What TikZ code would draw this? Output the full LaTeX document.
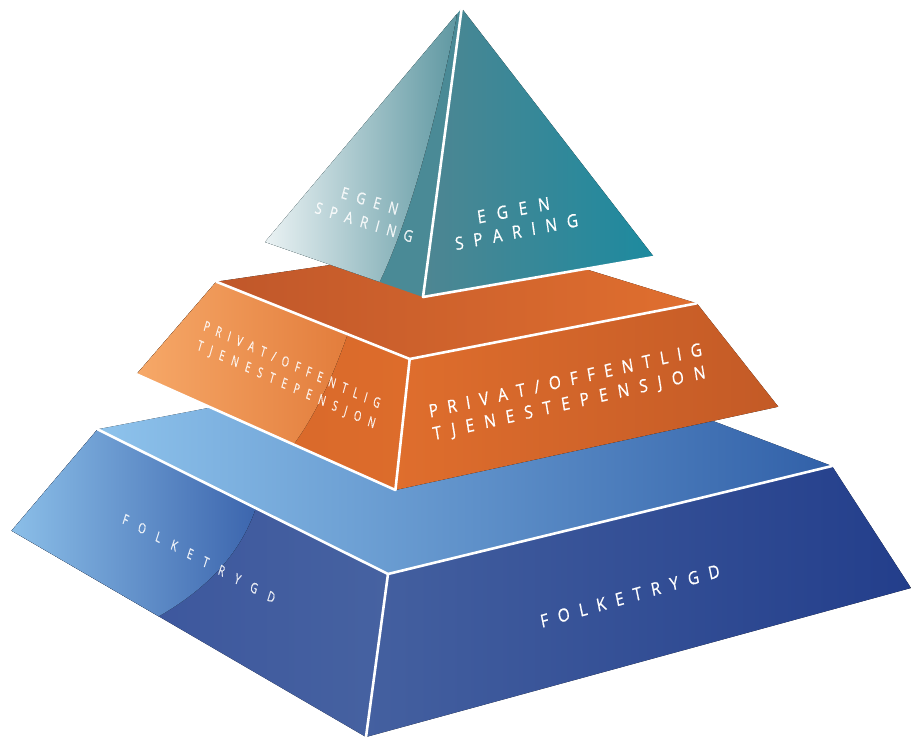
\documentclass[tikz,border=0pt]{standalone}
\usepackage{fontspec}
\newfontfamily\lblfont[FakeBold=0.6]{Open Sans}
\makeatletter
\newcommand\lsp[2]{\def\lsp@k{#1}\lsp@a#2\relax}
\def\lsp@a#1{\ifx\relax#1\else#1\expandafter\lsp@b\fi}
\def\lsp@b#1{\ifx\relax#1\else\kern\lsp@k#1\expandafter\lsp@b\fi}
\makeatother
\definecolor{tealBase}{HTML}{4A8A96}
\definecolor{tealLight}{HTML}{F2F7F8}
\definecolor{tealGl}{HTML}{5E97A1}
\definecolor{tealR1}{HTML}{4E8692}
\definecolor{tealR2}{HTML}{1D8A9F}
\definecolor{oTop1}{HTML}{C0572A}
\definecolor{oTop2}{HTML}{E06F2F}
\definecolor{oL1}{HTML}{F8AC6C}
\definecolor{oL2}{HTML}{E27C3B}
\definecolor{oL3}{HTML}{D5672B}
\definecolor{oL4}{HTML}{DD6C2B}
\definecolor{oR1}{HTML}{DF6E2D}
\definecolor{oR2}{HTML}{C35A26}
\definecolor{bTop1}{HTML}{8EC3EC}
\definecolor{bTop2}{HTML}{3160A8}
\definecolor{bL1}{HTML}{8FC3EB}
\definecolor{bL2}{HTML}{3A63AC}
\definecolor{bL3}{HTML}{38519B}
\definecolor{bL4}{HTML}{4662A1}
\definecolor{bR1}{HTML}{4460A0}
\definecolor{bR2}{HTML}{233E8B}
\begin{document}
\begin{tikzpicture}[x=1pt,y=-1pt,
  edge/.style={white, line width=2.6pt, line join=round, line cap=round},
  lbl/.style={text=white, font=\lblfont, align=center, inner sep=0pt},
  big/.style={lbl, xscale=0.85, font=\lblfont\fontsize{18}{22}\selectfont},
  small/.style={lbl, text opacity=0.85, font=\lblfont\fontsize{14}{20.5}\selectfont}]
\useasboundingbox (0,0) rectangle (911,737);
% vertices
\coordinate (B1) at (97.6,429.3);
\coordinate (B2) at (520,348);
\coordinate (B3) at (832,466);
\coordinate (B4) at (388,574);
\coordinate (B5) at (366,737);
\coordinate (B6) at (11.6,530.7);
\coordinate (B7) at (911,588);
\coordinate (O1) at (216.3,281.7);
\coordinate (O2) at (494,241);
\coordinate (O3) at (696.8,303.3);
\coordinate (O4) at (409.7,359);
\coordinate (O5) at (395.4,490);
\coordinate (O6) at (136.5,374.3);
\coordinate (O7) at (778.3,406.7);
\coordinate (T0) at (461.7,8.3);
\coordinate (T1) at (265,242);
\coordinate (T2) at (423,297);
\coordinate (T3) at (654,257);
% ---------- blue layer ----------
\fill[left color=bTop1, right color=bTop2] (B1) -- (B2) -- (B3) -- (B4) -- cycle;
\fill[left color=bR1, right color=bR2] (B4) -- (B3) -- (B7) -- (B5) -- cycle;
\fill[left color=bL3, right color=bL4] (B1) -- (B4) -- (B5) -- (B6) -- cycle;
\begin{scope}
  \clip (B1) -- (B4) -- (B5) -- (B6) -- cycle;
  \fill[left color=bL1, right color=bL2] (0,410) -- (262,410) -- (262,500) -- (255.7,508.3)
    .. controls (240,555) and (205,590) .. (158,616.7) -- (150,640) -- (0,640) -- cycle;
\end{scope}
\draw[edge] (B1) -- (B4) -- (B3);
\draw[edge] (B4) -- (B5);
% ---------- orange layer ----------
\fill[left color=oTop1, right color=oTop2] (O1) -- (O2) -- (O3) -- (O4) -- cycle;
\fill[left color=oR1, right color=oR2] (O4) -- (O3) -- (O7) -- (O5) -- cycle;
\fill[left color=oL3, right color=oL4] (O1) -- (O4) -- (O5) -- (O6) -- cycle;
\begin{scope}
  \clip (O1) -- (O4) -- (O5) -- (O6) -- cycle;
  \fill[left color=oL1, right color=oL2] (120,270) -- (352,270) -- (352,326) -- (347.7,334)
    .. controls (332,378) and (316,414) .. (293.5,444.5) -- (290,470) -- (120,470) -- cycle;
\end{scope}
\draw[edge] (O1) -- (O4) -- (O3);
\draw[edge] (O4) -- (O5) -- (O6);
% ---------- teal pyramid ----------
\fill[left color=tealR1, right color=tealR2] (T0) -- (T3) -- (T2) -- cycle;
\fill[tealBase] (T0) -- (T2) -- (T1) -- cycle;
\begin{scope}
  \clip (T0) -- (T2) -- (T1) -- cycle;
  \fill[left color=tealLight, right color=tealGl] (255,0) -- (458,0) -- (456,20)
    .. controls (432,140) and (405,230) .. (378,285) -- (376,310) -- (255,310) -- cycle;
\end{scope}
\draw[edge] (T0) -- (T2) -- (T3);
% ---------- labels ----------
\node[big, rotate=9.5] (egenR) at (515,221) {\lsp{0.73em}{EGEN}\\\lsp{0.66em}{SPARING}};
\node[small, cm={0.765,-0.234,0.259,0.966,(0,0)}, font=\lblfont\fontsize{16}{22}\selectfont] (egenL) at (367,211.5) {\lsp{0.67em}{EGEN}\\\lsp{0.63em}{SPARING}};
\node[big, rotate=11, font=\lblfont\fontsize{18}{23}\selectfont] (privR) at (567.5,393) {\lsp{0.62em}{PRIVAT/OFFENTLIG}\\\lsp{0.68em}{TJENESTEPENSJON}};
\node[small, cm={0.639,-0.285,0.276,0.961,(0,0)}] (privL) at (289,375.5) {\lsp{0.72em}{PRIVAT/OFFENTLIG}\\\lsp{0.8em}{TJENESTEPENSJON}};
\node[big, rotate=13.7] (folkR) at (630,596) {\lsp{0.65em}{FOLKETRYGD}};
\node[small, cm={0.662,-0.352,0.309,0.951,(0,0)}] (folkL) at (199,558.5) {\lsp{1.13em}{FOLKETRYGD}};
\end{tikzpicture}
\end{document}
